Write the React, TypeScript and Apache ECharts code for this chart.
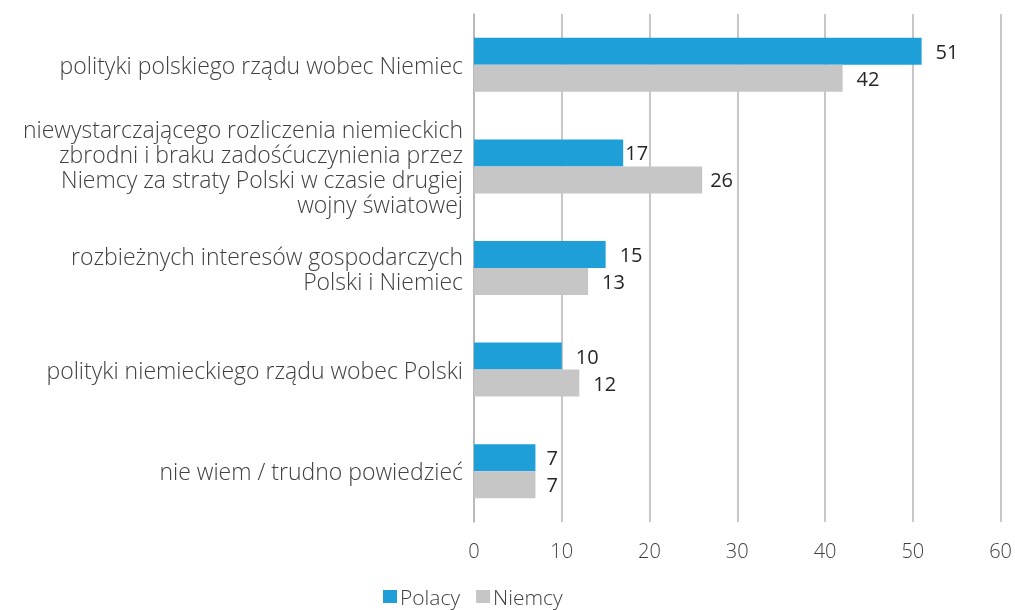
import React, { useEffect, useRef } from "react";
import * as echarts from "echarts";

const categories = [
  "polityki polskiego rządu wobec Niemiec",
  "niewystarczającego rozliczenia niemieckich\nzbrodni i braku zadośćuczynienia przez\nNiemcy za straty Polski w czasie drugiej\nwojny światowej",
  "rozbieżnych interesów gospodarczych\nPolski i Niemiec",
  "polityki niemieckiego rządu wobec Polski",
  "nie wiem / trudno powiedzieć",
];
const polacy = [51, 17, 15, 10, 7];
const niemcy = [42, 26, 13, 12, 7];
const seriesNames = ["Polacy", "Niemcy"];

const polacyLabelDistance = [14, 2, 14, 14, 11];
const niemcyLabelDistance = [14, 8, 14, 14, 11];

const FONT = "Open Sans";

export default function App() {
  const ref = useRef<HTMLDivElement>(null);
  useEffect(() => {
    if (!ref.current) return;
    document.body.style.margin = "0";
    document.body.style.overflow = "hidden";
    const chart = echarts.init(ref.current, null, { renderer: "svg" });
    const labelBase = {
      show: true,
      position: "right",
      color: "#262626",
      fontFamily: FONT,
      fontSize: 20,
      fontWeight: 400,
    };
    chart.setOption({
      animation: false,
      grid: { left: 474, right: 14, top: 14, bottom: 88, containLabel: false },
      legend: {
        data: seriesNames,
        top: 586,
        left: 383,
        padding: 0,
        itemWidth: 14,
        itemHeight: 13,
        itemGap: 16,
        icon: "rect",
        textStyle: {
          fontFamily: FONT,
          fontSize: 21,
          fontWeight: 300,
          color: "#404040",
          lineHeight: 20,
          padding: [0, 0, 0, -2],
        },
      },
      xAxis: {
        type: "value",
        min: 0,
        max: 60,
        interval: 10,
        axisLine: { show: false },
        axisTick: { show: false },
        splitLine: { show: true, lineStyle: { color: "#b5b5b5", width: 1.5 } },
        axisLabel: { margin: 18, fontFamily: FONT, fontSize: 20, fontWeight: 300, color: "#404040" },
      },
      yAxis: {
        type: "category",
        data: categories,
        inverse: true,
        axisLine: { show: true, lineStyle: { color: "#b5b5b5", width: 1.5 } },
        axisTick: { show: false },
        axisLabel: {
          margin: 11,
          fontFamily: FONT,
          fontSize: 23,
          fontWeight: 300,
          lineHeight: 25,
          color: "#404040",
          align: "right",
        },
      },
      series: [
        {
          name: seriesNames[0],
          type: "bar",
          data: polacy.map((v, i) => ({ value: v, label: { distance: polacyLabelDistance[i] } })),
          barWidth: 27,
          barGap: "0%",
          itemStyle: { color: "#1e9fd8" },
          label: labelBase,
        },
        {
          name: seriesNames[1],
          type: "bar",
          data: niemcy.map((v, i) => ({ value: v, label: { distance: niemcyLabelDistance[i] } })),
          barWidth: 27,
          barGap: "0%",
          itemStyle: { color: "#c6c6c6" },
          label: labelBase,
        },
      ],
    });
    return () => chart.dispose();
  }, []);
  return (
    <div
      ref={ref}
      style={{ position: "fixed", left: 0, top: 0, width: 1015, height: 610 }}
    />
  );
}
